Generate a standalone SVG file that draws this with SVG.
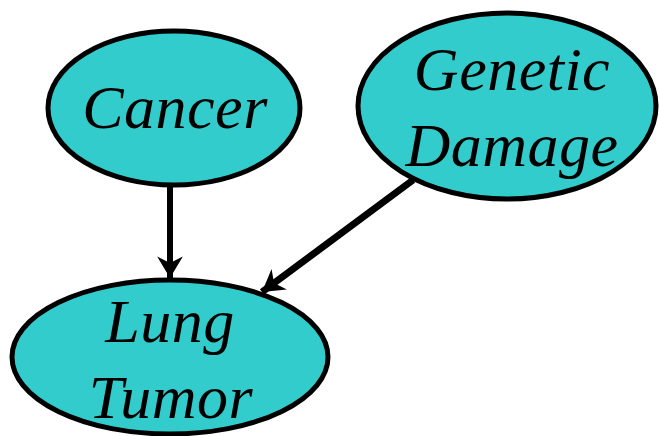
<svg xmlns="http://www.w3.org/2000/svg" width="659" height="436" viewBox="0 0 659 436">
<style>
.node ellipse{fill:#33CCCC;stroke:#000;stroke-width:5}
.node text{font-family:"Liberation Serif","Times New Roman",serif;font-style:italic;font-size:62px;fill:#000;text-anchor:middle;letter-spacing:0.5px}
.edge{stroke:#000;fill:none}
</style>
<defs>
<marker id="arr" markerUnits="userSpaceOnUse" markerWidth="30" markerHeight="30" viewBox="-22 -14 24 28" refX="0" refY="0" orient="auto">
<path d="M0,0 L-20,-12 L-14,0 L-20,12 Z" fill="#000"/>
</marker>
</defs>
<g id="edges">
<line class="edge" x1="170" y1="186" x2="170" y2="278" stroke-width="6" marker-end="url(#arr)"/>
<line class="edge" x1="413" y1="180" x2="262" y2="292" stroke-width="7" marker-end="url(#arr)"/>
</g>
<g id="cancer" class="node">
<ellipse cx="174" cy="108" rx="126" ry="77"/>
<text x="175" y="128">Cancer</text>
</g>
<g id="genetic" class="node">
<ellipse cx="507" cy="106" rx="149" ry="93"/>
<text x="512" y="90">Genetic</text>
<text x="512" y="166">Damage</text>
</g>
<g id="lung" class="node">
<ellipse cx="170" cy="357" rx="158" ry="77"/>
<text x="170" y="342">Lung</text>
<text x="171" y="418">Tumor</text>
</g>
</svg>
